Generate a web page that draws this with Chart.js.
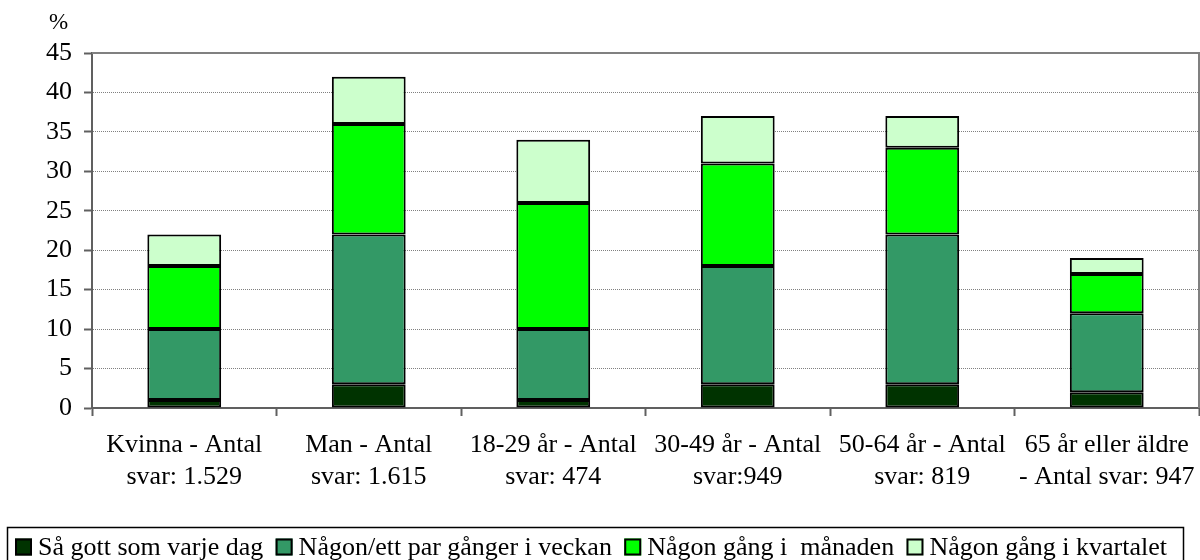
<!DOCTYPE html>
<html>
<head>
<meta charset="utf-8">
<script src="https://cdn.jsdelivr.net/npm/chart.js@4/dist/chart.umd.min.js"></script>
<style>
  html, body { margin: 0; padding: 0; background: #fff; }
  #wrap { width: 1200px; height: 560px; }
</style>
</head>
<body>
<div id="wrap"><canvas id="c" width="1200" height="560"></canvas></div>
<script>
const categories = [
  ["Kvinna - Antal", "svar: 1.529"],
  ["Man - Antal", "svar: 1.615"],
  ["18-29 år - Antal", "svar: 474"],
  ["30-49 år - Antal", "svar:949"],
  ["50-64 år - Antal", "svar: 819"],
  ["65 år eller äldre", "- Antal svar: 947"]
];
const seriesNames = ["Så gott som varje dag", "Någon/ett par gånger i veckan", "Någon gång i  månaden", "Någon gång i kvartalet"];
const dagligen = [1, 3, 1, 3, 3, 2];
const veckan   = [9, 19, 9, 15, 19, 10];
const manaden  = [8, 14, 16, 13, 11, 5];
const kvartal  = [4, 6, 8, 6, 4, 2];
const yTicks = [0, 5, 10, 15, 20, 25, 30, 35, 40, 45];
const unitLabel = "%";

const colors = ["#003300", "#339966", "#00FF00", "#CCFFCC"];
const values = [dagligen, veckan, manaden, kvartal];
const FONT = "'Liberation Serif', 'Times New Roman', serif";

// Frame of plot area, unit label and boxed legend
const framePlugin = {
  id: 'frame',
  beforeDatasetsDraw(chart) {
    const {ctx, chartArea: a} = chart;
    ctx.save();
    ctx.strokeStyle = '#808080';
    ctx.lineWidth = 2;
    ctx.beginPath();
    ctx.moveTo(a.left, a.top);
    ctx.lineTo(a.right, a.top);
    ctx.lineTo(a.right, a.bottom);
    ctx.stroke();
    ctx.restore();
  },
  afterDraw(chart) {
    const {ctx, chartArea: a} = chart;
    ctx.save();
    ctx.fillStyle = '#000';
    ctx.font = "23px " + FONT;
    ctx.textAlign = 'left';
    ctx.textBaseline = 'middle';
    ctx.fillText(unitLabel, a.left - 43, a.top - 30);

    // legend
    const items = chart.data.datasets.map(d => ({ text: d.label, fill: d.backgroundColor }));
    ctx.font = "26px " + FONT;
    const box = 17, boxGap = 6;
    const startX = 15, endX = 1167;
    const widths = items.map(it => ctx.measureText(it.text).width);
    const used = widths.reduce((s, w) => s + w + box + boxGap, 0);
    const gap = (endX - startX - used) / (items.length - 1);
    const cy = 547;
    let x = startX;
    items.forEach((it, i) => {
      ctx.fillStyle = it.fill;
      ctx.fillRect(x, cy - 8.5, box, box);
      ctx.strokeStyle = '#000';
      ctx.lineWidth = 2;
      ctx.strokeRect(x + 1, cy - 7.5, box - 2, box - 2);
      ctx.fillStyle = '#000';
      ctx.textBaseline = 'middle';
      ctx.fillText(it.text, x + box + boxGap, cy + 1);
      x += box + boxGap + widths[i] + gap;
    });
    ctx.strokeStyle = '#000';
    ctx.lineWidth = 1.5;
    ctx.strokeRect(7.5, 527.5, 1176, 60);
    ctx.restore();
  }
};

new Chart(document.getElementById('c'), {
  type: 'bar',
  data: {
    labels: categories,
    datasets: values.map((v, i) => ({
      label: seriesNames[i],
      data: v,
      backgroundColor: colors[i],
      borderColor: '#000',
      borderWidth: 2,
      borderSkipped: false,
      categoryPercentage: 0.4,
      barPercentage: 1.0
    }))
  },
  options: {
    responsive: false,
    animation: false,
    devicePixelRatio: 1,
    layout: { padding: { top: 53, left: 0, right: 1, bottom: 39 } },
    plugins: {
      tooltip: { enabled: false },
      legend: { display: false }
    },
    scales: {
      x: {
        stacked: true,
        afterFit(scale) { scale.height = 113; scale.paddingLeft = 0; scale.paddingRight = 0; },
        grid: { display: true, offset: true, drawOnChartArea: false, drawTicks: true, tickLength: 8, tickColor: '#606060', tickWidth: 2 },
        border: { display: true, color: '#606060', width: 2 },
        ticks: { color: '#000', font: { family: FONT, size: 26, lineHeight: 1.23 }, padding: 13, maxRotation: 0, autoSkip: false }
      },
      y: {
        stacked: true,
        min: 0,
        max: 45,
        afterFit(scale) { scale.width = 92; scale.paddingTop = 0; scale.paddingBottom = 0; },
        afterBuildTicks(scale) { scale.ticks = yTicks.map(v => ({ value: v })); },
        grid: { color: '#808080', lineWidth: 1, tickLength: 8, tickColor: '#606060', tickWidth: 2, tickBorderDash: [] },
        border: { display: true, color: '#606060', width: 2, dash: [1, 1] },
        ticks: { color: '#000', font: { family: FONT, size: 26 }, padding: 12 }
      }
    }
  },
  plugins: [framePlugin]
});
</script>
</body>
</html>
